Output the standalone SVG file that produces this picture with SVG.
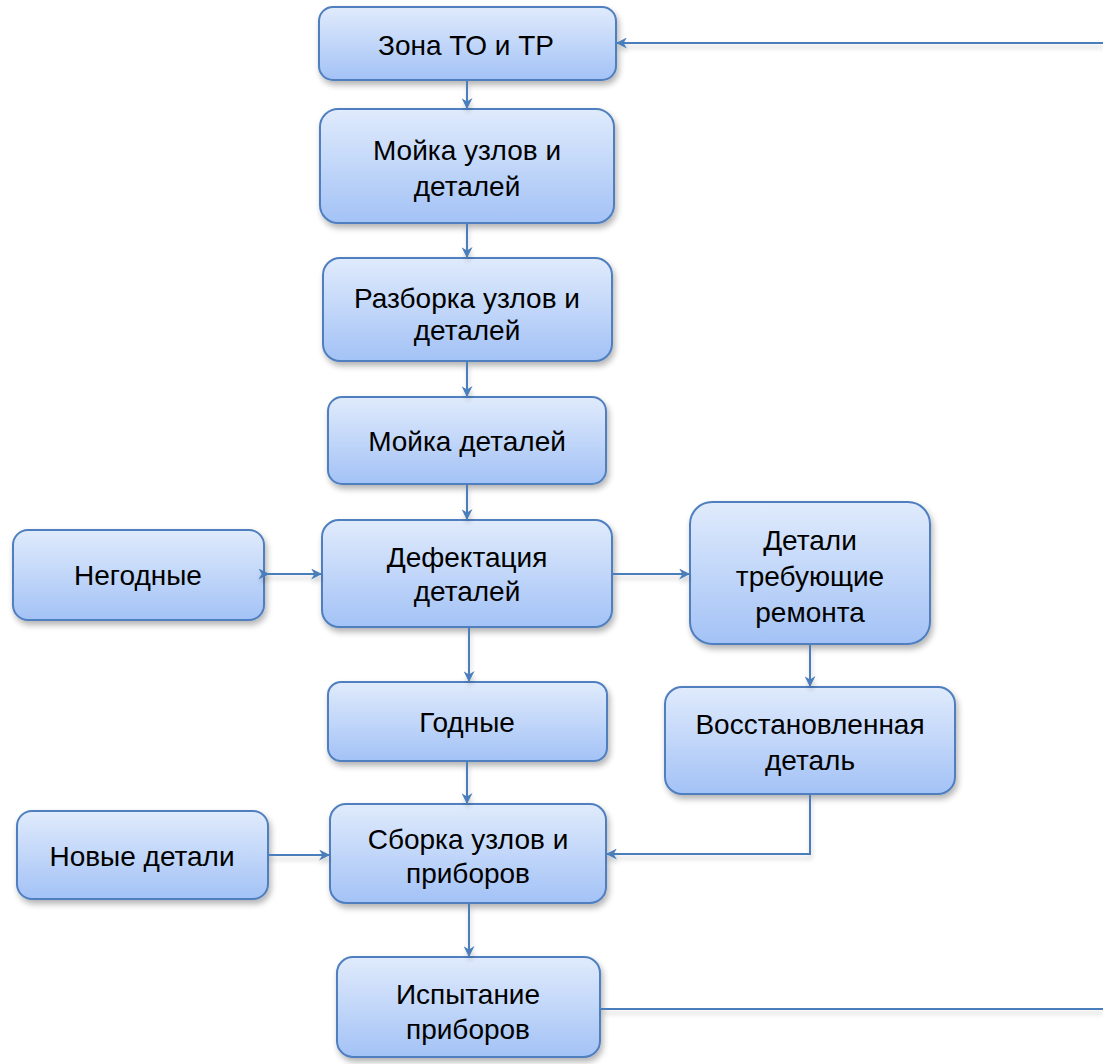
<svg xmlns="http://www.w3.org/2000/svg" width="1103" height="1064" viewBox="0 0 1103 1064">
<defs>
<linearGradient id="g" x1="0" y1="0" x2="0" y2="1">
<stop offset="0" stop-color="#e0ebfc"/>
<stop offset="1" stop-color="#a3c2f6"/>
</linearGradient>
<filter id="sh" x="-10%" y="-10%" width="130%" height="140%">
<feGaussianBlur in="SourceAlpha" stdDeviation="3"/>
<feOffset dx="2" dy="4"/>
<feComponentTransfer><feFuncA type="linear" slope="0.3"/></feComponentTransfer>
<feMerge><feMergeNode/><feMergeNode in="SourceGraphic"/></feMerge>
</filter>
<filter id="shc" filterUnits="userSpaceOnUse" x="0" y="0" width="1103" height="1064">
<feGaussianBlur in="SourceAlpha" stdDeviation="2.5"/>
<feOffset dx="1" dy="4"/>
<feComponentTransfer><feFuncA type="linear" slope="0.2"/></feComponentTransfer>
<feMerge><feMergeNode/><feMergeNode in="SourceGraphic"/></feMerge>
</filter>
<marker id="ah" viewBox="0 0 10 10" refX="9" refY="5" markerWidth="11" markerHeight="11" markerUnits="userSpaceOnUse" orient="auto">
<path d="M0,0 L10,5 L0,10 L3,5 Z" fill="#4a7ebb"/>
</marker>
<marker id="at" viewBox="0 0 10 10" refX="6" refY="5" markerWidth="11" markerHeight="11" markerUnits="userSpaceOnUse" orient="auto">
<path d="M0,0 L10,5 L0,10 L3,5 Z" fill="#4a7ebb"/>
</marker>
</defs>
<style>
.n rect{fill:url(#g);stroke:#4f7fbf;stroke-width:2;filter:url(#sh)}
.n text{font-family:"Liberation Sans",Arial,sans-serif;font-size:28px;fill:#000;text-anchor:middle}
.c{filter:url(#shc)}
.c path{fill:none;stroke:#4a7ebb;stroke-width:2}
</style>
<g id="n1" class="n"><rect x="319" y="7" width="297" height="73" rx="14"/><text x="466" y="55">Зона ТО и ТР</text></g>
<g id="n2" class="n"><rect x="320" y="109" width="294" height="114" rx="18"/><text x="467" y="160">Мойка узлов и</text><text x="467" y="196">деталей</text></g>
<g id="n3" class="n"><rect x="323" y="258" width="289" height="103" rx="17"/><text x="467" y="308">Разборка узлов и</text><text x="467" y="340">деталей</text></g>
<g id="n4" class="n"><rect x="328" y="397" width="278" height="87" rx="14"/><text x="467" y="451">Мойка деталей</text></g>
<g id="n5" class="n"><rect x="322" y="520" width="290" height="107" rx="17"/><text x="467" y="567">Дефектация</text><text x="467" y="601">деталей</text></g>
<g id="n6" class="n"><rect x="13" y="530" width="251" height="90" rx="15"/><text x="138" y="585">Негодные</text></g>
<g id="n7" class="n"><rect x="690" y="502" width="240" height="142" rx="22"/><text x="810" y="550">Детали</text><text x="810" y="586">требующие</text><text x="810" y="622">ремонта</text></g>
<g id="n8" class="n"><rect x="328" y="682" width="279" height="79" rx="13"/><text x="467" y="732">Годные</text></g>
<g id="n9" class="n"><rect x="665" y="687" width="290" height="107" rx="17"/><text x="810" y="734">Восстановленная</text><text x="810" y="770">деталь</text></g>
<g id="n10" class="n"><rect x="17" y="811" width="251" height="88" rx="15"/><text x="142" y="866">Новые детали</text></g>
<g id="n11" class="n"><rect x="330" y="804" width="276" height="99" rx="16"/><text x="468" y="849">Сборка узлов и</text><text x="468" y="883">приборов</text></g>
<g id="n12" class="n"><rect x="337" y="957" width="263" height="100" rx="16"/><text x="468" y="1004">Испытание</text><text x="468" y="1039">приборов</text></g>
<g id="connectors" class="c">
<path d="M1103,43 H617" marker-end="url(#ah)"/>
<path d="M467,81 V108" marker-end="url(#ah)"/>
<path d="M467,224 V257" marker-end="url(#ah)"/>
<path d="M467,362 V396" marker-end="url(#ah)"/>
<path d="M467,485 V519" marker-end="url(#ah)"/>
<path d="M265,574 H321" marker-start="url(#at)" marker-end="url(#ah)"/>
<path d="M613,574 H689" marker-end="url(#ah)"/>
<path d="M810,645 V686" marker-end="url(#ah)"/>
<path d="M469,628 V681" marker-end="url(#ah)"/>
<path d="M467,762 V803" marker-end="url(#ah)"/>
<path d="M269,855 H329" marker-end="url(#ah)"/>
<path d="M810,795 V854 H607" marker-end="url(#ah)"/>
<path d="M469,904 V956" marker-end="url(#ah)"/>
<path d="M601,1009 H1103"/>
</g>
</svg>
